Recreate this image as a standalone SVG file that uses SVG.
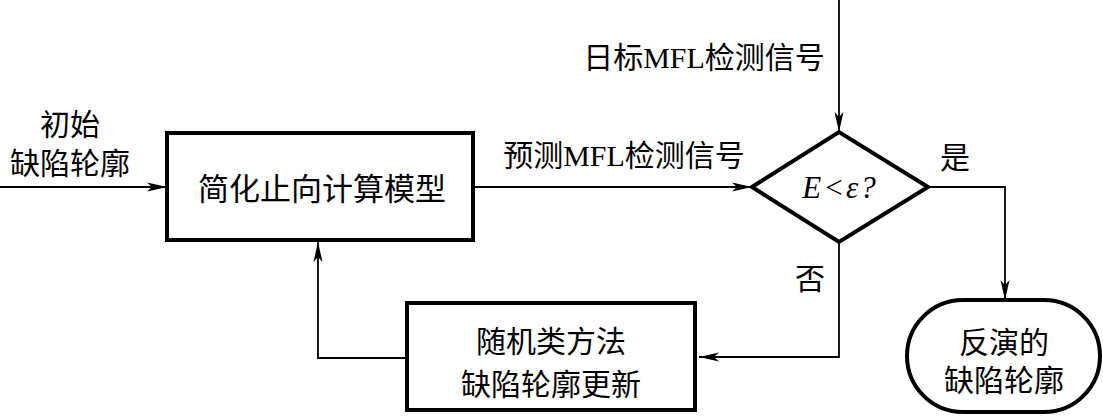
<svg xmlns="http://www.w3.org/2000/svg" width="1103" height="417" viewBox="0 0 1103 417">
<style>
.box{fill:#fff;stroke:#000;stroke-width:4}
.ln{fill:none;stroke:#000;stroke-width:1.8}
.t{font-family:"Liberation Serif","Noto Sans CJK SC",serif;font-size:30px;fill:#000;text-anchor:middle}
.m{font-family:"Liberation Serif",serif;font-style:italic;font-size:31px;fill:#000;text-anchor:middle;letter-spacing:2px}
</style>
<defs>
<marker id="ah" markerUnits="userSpaceOnUse" markerWidth="20" markerHeight="10" refX="20" refY="5" orient="auto">
<path d="M0,0.5 L20,5 L0,9.5 L5,5 Z" fill="#000"/>
</marker>
</defs>
<g id="connectors">
<line class="ln" x1="0" y1="187" x2="167" y2="187" marker-end="url(#ah)"/>
<line class="ln" x1="473" y1="187" x2="752" y2="187" marker-end="url(#ah)"/>
<line class="ln" x1="839" y1="0" x2="839" y2="132" marker-end="url(#ah)"/>
<polyline class="ln" points="928,187 1005,187 1005,300" marker-end="url(#ah)"/>
<polyline class="ln" points="839,242 839,357 699,357" marker-end="url(#ah)"/>
<polyline class="ln" points="407,358 318,358 318,242" marker-end="url(#ah)"/>
</g>
<g id="label-init">
<text class="t" x="70" y="135">初始</text>
<text class="t" x="70" y="174">缺陷轮廓</text>
</g>
<g id="label-target"><text class="t" x="704" y="68">日标MFL检测信号</text></g>
<g id="label-pred"><text class="t" x="624" y="166">预测MFL检测信号</text></g>
<g id="label-yes"><text class="t" x="955" y="168">是</text></g>
<g id="label-no"><text class="t" x="810" y="289">否</text></g>
<g id="node-forward">
<rect class="box" x="167" y="133" width="306" height="107"/>
<text class="t" x="322" y="200" style="font-size:31px">简化止向计算模型</text>
</g>
<g id="node-decision">
<polygon class="box" points="752,187 839,132 928,187 839,242"/>
<text class="m" x="840" y="198">E&lt;ε?</text>
</g>
<g id="node-update">
<rect class="box" x="407" y="303" width="288" height="107"/>
<text class="t" x="551" y="352">随机类方法</text>
<text class="t" x="551" y="395">缺陷轮廓更新</text>
</g>
<g id="node-result">
<rect class="box" x="907" y="300" width="193" height="112" rx="56" ry="56"/>
<text class="t" x="1004" y="353">反演的</text>
<text class="t" x="1004" y="391">缺陷轮廓</text>
</g>
</svg>
